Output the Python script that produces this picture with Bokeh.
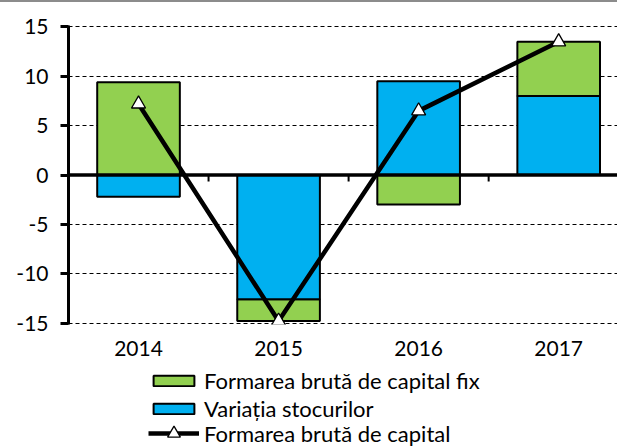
from bokeh.plotting import figure
from bokeh.models import Range1d, FixedTicker, Span, Legend, LegendItem, Div
from bokeh.layouts import column
from bokeh.embed import file_html
from bokeh.resources import INLINE

# ---- data ----
years = ["2014", "2015", "2016", "2017"]
fixed_capital = [9.4, -2.2, -3.0, 5.5]      # Formarea brută de capital fix
stock_change = [-2.2, -12.6, 9.5, 8.0]      # Variația stocurilor
gross_capital = [7.2, -14.8, 6.5, 13.5]     # Formarea brută de capital
y_ticks = [-15, -10, -5, 0, 5, 10, 15]

labels = ["Formarea brută de capital fix", "Variația stocurilor", "Formarea brută de capital"]
GREEN = "#92D050"
BLUE = "#00B0F0"
RULE = "#8c8c8c"
FONT = "Lato"
FS = "21px"
FS_LEG = "22px"

xs = list(range(len(years)))

# stacked bars, positives stacked up, negatives stacked down (blue first)
blue_bottom, blue_top, green_bottom, green_top = [], [], [], []
for b, g in zip(stock_change, fixed_capital):
    blue_bottom.append(0)
    blue_top.append(b)
    if (g >= 0) == (b >= 0):
        green_bottom.append(b)
        green_top.append(b + g)
    else:
        green_bottom.append(0)
        green_top.append(g)

bar_style = dict(line_color="black", line_width=2)
line_style = dict(line_color="black", line_width=4.5)
mark_style = dict(marker="triangle", size=14, fill_color="white",
                  line_color="black", line_width=1.3)

# ---- thin grey rule at the very top ----
top = Div(text="", width=617, height=2, margin=0,
          styles={"background-color": RULE, "width": "617px", "height": "2px"})

# ---- main chart ----
p = figure(width=617, height=363,
           x_range=Range1d(-0.5, 3.42), y_range=Range1d(-15.15, 15.15),
           output_backend="svg", toolbar_location=None,
           min_border_left=68, min_border_right=0,
           min_border_top=23, min_border_bottom=41)
p.outline_line_color = None
p.background_fill_color = "white"
p.border_fill_color = "white"

# grid
p.xgrid.visible = False
p.ygrid.ticker = FixedTicker(ticks=y_ticks)
p.ygrid.grid_line_color = "black"
p.ygrid.grid_line_width = 1.2
p.ygrid.grid_line_dash = "4 3"

# y axis
p.yaxis.ticker = FixedTicker(ticks=y_ticks)
p.yaxis.major_label_overrides = {t: str(t) for t in y_ticks}
p.yaxis.axis_line_width = 3
p.yaxis.axis_line_color = "black"
p.yaxis.major_tick_in = 0
p.yaxis.major_tick_out = 8
p.yaxis.major_tick_line_width = 3
p.yaxis.minor_tick_line_color = None
p.yaxis.major_label_text_font = FONT
p.yaxis.major_label_text_font_size = FS
p.yaxis.major_label_text_color = "black"
p.yaxis.major_label_standoff = 12

# x axis (labels only)
p.xaxis.ticker = FixedTicker(ticks=xs)
p.xaxis.major_label_overrides = {i: y for i, y in zip(xs, years)}
p.xaxis.axis_line_color = None
p.xaxis.major_tick_line_color = None
p.xaxis.minor_tick_line_color = None
p.xaxis.major_label_text_font = FONT
p.xaxis.major_label_text_font_size = FS
p.xaxis.major_label_text_color = "black"
p.xaxis.major_label_standoff = 10

bw = 0.59
p.vbar(x=xs, bottom=green_bottom, top=green_top, width=bw, fill_color=GREEN, **bar_style)
p.vbar(x=xs, bottom=blue_bottom, top=blue_top, width=bw, fill_color=BLUE, **bar_style)

# zero line and category separator ticks
p.add_layout(Span(location=0, dimension="width", line_color="black", line_width=3.5))
seps = [i + 0.5 for i in xs[:-1]]
p.segment(x0=seps, y0=[0] * len(seps), x1=seps, y1=[-0.65] * len(seps),
          line_color="black", line_width=2)

p.line(xs, gross_capital, **line_style)
p.scatter(xs, gross_capital, **mark_style)

# ---- legend strip below the chart (its frame is aligned with the chart frame) ----
pl = figure(width=617, height=82, x_range=Range1d(0, 1), y_range=Range1d(0, 1),
            output_backend="svg", toolbar_location=None, title=None,
            x_axis_location=None, y_axis_location=None,
            min_border=0, min_border_left=0, min_border_right=0,
            min_border_top=0, min_border_bottom=0)
pl.grid.visible = False
pl.outline_line_color = None
pl.background_fill_color = "white"
pl.border_fill_color = "white"

nan = float("nan")
lg_green = pl.vbar(x=[nan], top=[nan], bottom=[nan], width=bw, fill_color=GREEN, **bar_style)
lg_blue = pl.vbar(x=[nan], top=[nan], bottom=[nan], width=bw, fill_color=BLUE, **bar_style)
lg_line = pl.line(x=[nan], y=[nan], **line_style)
lg_mark = pl.scatter(x=[nan], y=[nan], **mark_style)


def style_legend(lg, glyph_h):
    lg.glyph_width = 51
    lg.glyph_height = glyph_h
    lg.label_height = 24
    lg.spacing = 1
    lg.padding = 0
    lg.margin = 0
    lg.label_standoff = 5
    lg.label_text_font = FONT
    lg.label_text_font_size = FS_LEG
    lg.label_text_color = "black"
    lg.border_line_color = None
    lg.background_fill_alpha = 0


legend_bars = Legend(items=[
    LegendItem(label=labels[0], renderers=[lg_green]),
    LegendItem(label=labels[1], renderers=[lg_blue]),
], location=(80, 25))
style_legend(legend_bars, 13)

legend_line = Legend(items=[
    LegendItem(label=labels[2], renderers=[lg_line, lg_mark]),
], location=(80, -2))
style_legend(legend_line, 32)

pl.add_layout(legend_bars, "center")
pl.add_layout(legend_line, "center")

layout = column(top, p, pl, spacing=0)
open("out.html", "w").write(file_html(layout, INLINE))
